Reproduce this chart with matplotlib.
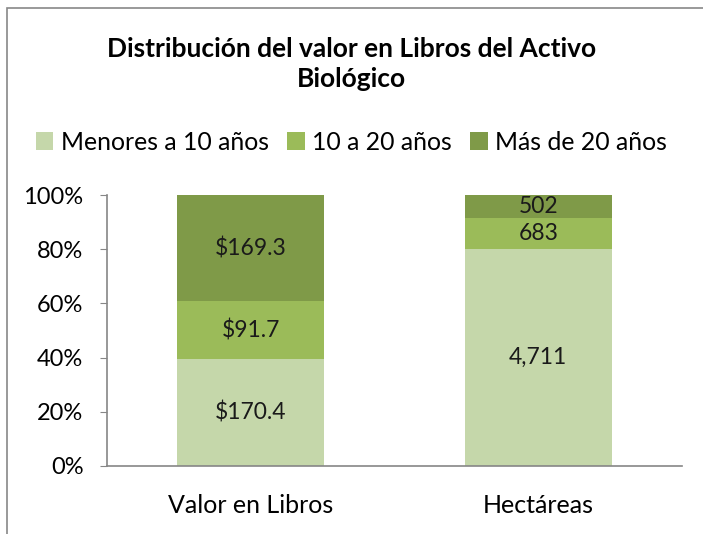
import matplotlib.pyplot as plt
from matplotlib.patches import Rectangle

# datos
categorias = ['Valor en Libros', 'Hectáreas']
series = ['Menores a 10 años', '10 a 20 años', 'Más de 20 años']
menores = [170.4, 4711]
medio = [91.7, 683]
mayores = [169.3, 502]
etiquetas = [['$170.4', '4,711'], ['$91.7', '683'], ['$169.3', '502']]
colores = ['#C5D7AA', '#9BBB59', '#7F9A48']

plt.rcParams['font.family'] = ['Lato', 'DejaVu Sans']

fig = plt.figure(figsize=(7.03, 5.34), dpi=100)
ax = fig.add_axes([107/703, 1-466/534, 575/703, 271/534])

valores = [menores, medio, mayores]
totales = [sum(v) for v in zip(*valores)]
base = [0.0, 0.0]
x = list(range(len(categorias)))
for i, serie in enumerate(valores):
    pct = [v / t * 100 for v, t in zip(serie, totales)]
    ax.bar(x, pct, width=0.51, bottom=base, color=colores[i], label=series[i])
    for j in x:
        ax.text(j, base[j] + pct[j] / 2, etiquetas[i][j], ha='center', va='center',
                fontsize=16.5, color='#1a1a1a')
    base = [b + p for b, p in zip(base, pct)]

ax.set_xlim(-0.5, 1.5)
ax.set_ylim(0, 100)
ax.set_yticks(range(0, 101, 20))
ax.set_yticklabels([f'{v}%' for v in range(0, 101, 20)], fontsize=17)
ax.set_xticks(x)
ax.set_xticklabels(categorias, fontsize=18)
ax.tick_params(axis='x', length=0, pad=20)
ax.tick_params(axis='y', length=5, color='#868686', pad=12)
for s in ['top', 'right']:
    ax.spines[s].set_visible(False)
for s in ['left', 'bottom']:
    ax.spines[s].set_color('#868686')
    ax.spines[s].set_linewidth(1.2)

fig.text(0.5, 1-64/534, 'Distribución del valor en Libros del Activo\nBiológico',
         ha='center', va='center', fontsize=19, fontweight='bold', linespacing=1.3)
fig.legend(loc='center', bbox_to_anchor=(0.5, 1-142/534), ncol=3, frameon=False,
           fontsize=17.8, handlelength=0.7, handleheight=0.7, handletextpad=0.3,
           columnspacing=0.75)

# marco
fig.patches.append(Rectangle((7/703, -0.1), 1.2, 1 - 8/534 + 0.1, transform=fig.transFigure,
                             fill=False, edgecolor='#888888', linewidth=1.2))

plt.savefig('out.png', dpi=100)
